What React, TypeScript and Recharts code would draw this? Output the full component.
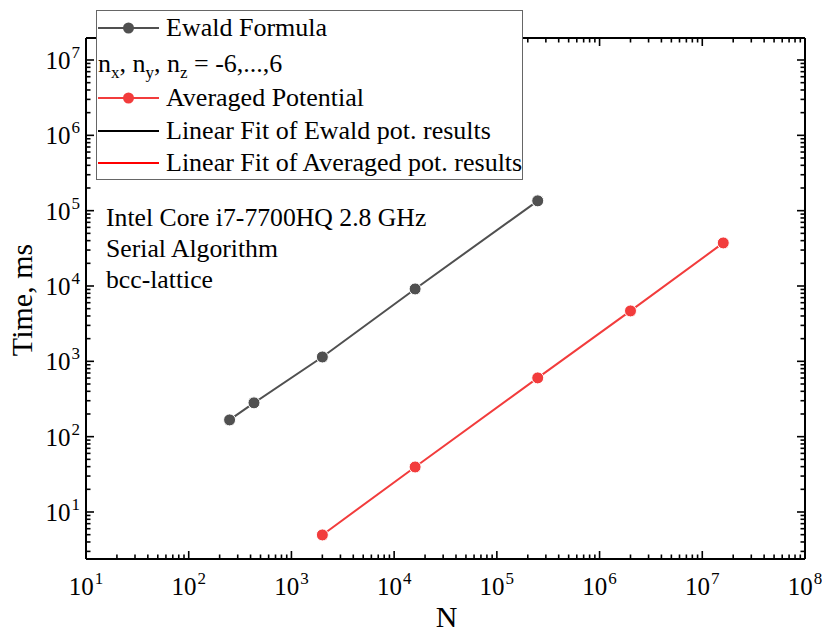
import React from 'react';
import { LineChart, Line, XAxis, YAxis } from 'recharts';

// ---- data ----
const ewaldN = [250, 432, 2000, 16000, 250000];
const ewaldTime = [167, 281, 1143, 9140, 135000];
const avgN = [2000, 16000, 250000, 2000000, 16000000];
const avgTime = [4.96, 39.6, 603, 4670, 37300];

const xMajorTicks = [1e1, 1e2, 1e3, 1e4, 1e5, 1e6, 1e7, 1e8];
const yMajorTicks = [1e1, 1e2, 1e3, 1e4, 1e5, 1e6, 1e7];
const minorSteps = [2, 3, 4, 5, 6, 7, 8, 9];
const xDomain: [number, number] = [10, 1e8];
const yDomain: [number, number] = [2.377, 1.959e7];

const seriesNames = ['Ewald Formula', 'Averaged Potential'];
const fitNames = ['Linear Fit of Ewald pot. results', 'Linear Fit of Averaged pot. results'];
const noteLines = ['Intel Core i7-7700HQ 2.8 GHz', 'Serial Algorithm', 'bcc-lattice'];
const xTitle = 'N';
const yTitle = 'Time, ms';

const ewaldData = ewaldN.map((n, i) => ({ n, t: ewaldTime[i] }));
const avgData = avgN.map((n, i) => ({ n, t: avgTime[i] }));

function withMinor(majors: number[], lo: number, hi: number): number[] {
  const out: number[] = [];
  const decades = [majors[0] / 10, ...majors];
  decades.forEach((d) => {
    if (d >= lo && d <= hi) out.push(d);
    minorSteps.forEach((m) => {
      const v = d * m;
      if (v >= lo && v <= hi) out.push(v);
    });
  });
  return Array.from(new Set(out)).sort((a, b) => a - b);
}

const xTicks = withMinor(xMajorTicks, xDomain[0], xDomain[1]);
const yTicks = withMinor(yMajorTicks, yDomain[0], yDomain[1]);

const isMajor = (v: number) => {
  const e = Math.log10(v);
  return Math.abs(e - Math.round(e)) < 1e-6;
};
const expo = (v: number) => Math.round(Math.log10(v));

const FONT = "'Liberation Serif', 'DejaVu Serif', 'Times New Roman', serif";
const MAJOR = 8;
const MINOR = 4.5;
const TICK_W = 1.6;
const GRAY = '#505050';
const RED = '#f23c3c';
const TICK_FS = 25;
const SUP_FS = 17;

const BottomTick = (props: any) => {
  const { x, y, payload } = props;
  const v = payload.value;
  const major = isMajor(v);
  return (
    <g>
      <line x1={x} x2={x} y1={y} y2={y - (major ? MAJOR : MINOR)} stroke="#000" strokeWidth={TICK_W} />
      {major && (
        <text x={x} y={y + 36} textAnchor="middle" fontFamily={FONT} fontSize={TICK_FS} fill="#000">
          10<tspan fontSize={SUP_FS} dx={1} dy={-11}>{expo(v)}</tspan>
        </text>
      )}
    </g>
  );
};

const TopTick = (props: any) => {
  const { x, y, payload } = props;
  const major = isMajor(payload.value);
  return <line x1={x} x2={x} y1={y} y2={y + (major ? MAJOR : MINOR)} stroke="#000" strokeWidth={TICK_W} />;
};

const LeftTick = (props: any) => {
  const { x, y, payload } = props;
  const v = payload.value;
  const major = isMajor(v);
  return (
    <g>
      <line x1={x} x2={x + (major ? MAJOR : MINOR)} y1={y} y2={y} stroke="#000" strokeWidth={TICK_W} />
      {major && (
        <text x={x - 6} y={y + 9} textAnchor="end" fontFamily={FONT} fontSize={TICK_FS} fill="#000">
          10<tspan fontSize={SUP_FS} dx={1} dy={-11}>{expo(v)}</tspan>
        </text>
      )}
    </g>
  );
};

const RightTick = (props: any) => {
  const { x, y, payload } = props;
  const major = isMajor(payload.value);
  return <line x1={x} x2={x - (major ? MAJOR : MINOR)} y1={y} y2={y} stroke="#000" strokeWidth={TICK_W} />;
};

const W = 814;
const H = 620;
const LEG_FS = 26;
const NOTE_FS = 25.7;

export default function App() {
  const axisLine = { stroke: '#000', strokeWidth: 2 };
  const legendRowsY = [28, 64, 98, 131, 163];
  const symX1 = 90;
  const symX2 = 151;
  const textX = 158;
  return (
    <div style={{ position: 'relative', width: W, height: H }}>
      <LineChart width={W} height={H} margin={{ top: 20, right: 7, bottom: 9, left: 0 }}>
        <XAxis
          xAxisId="bottom"
          dataKey="n"
          type="number"
          scale="log"
          domain={xDomain}
          allowDataOverflow
          ticks={xTicks}
          interval={0}
          tickSize={0}
          tickMargin={0}
          tickLine={false}
          axisLine={axisLine}
          tick={<BottomTick />}
          height={60}
          orientation="bottom"
        />
        <XAxis
          xAxisId="top"
          dataKey="n"
          type="number"
          scale="log"
          domain={xDomain}
          allowDataOverflow
          ticks={xTicks}
          interval={0}
          tickSize={0}
          tickMargin={0}
          tickLine={false}
          axisLine={axisLine}
          tick={<TopTick />}
          height={10}
          orientation="top"
        />
        <YAxis
          yAxisId="left"
          type="number"
          scale="log"
          domain={yDomain}
          allowDataOverflow
          ticks={yTicks}
          interval={0}
          tickSize={0}
          tickMargin={0}
          tickLine={false}
          axisLine={axisLine}
          tick={<LeftTick />}
          width={78}
          orientation="left"
        />
        <YAxis
          yAxisId="right"
          type="number"
          scale="log"
          domain={yDomain}
          allowDataOverflow
          ticks={yTicks}
          interval={0}
          tickSize={0}
          tickMargin={0}
          tickLine={false}
          axisLine={axisLine}
          tick={<RightTick />}
          width={10}
          orientation="right"
        />
        <Line
          xAxisId="bottom"
          yAxisId="left"
          data={ewaldData}
          dataKey="t"
          name={seriesNames[0]}
          stroke={GRAY}
          strokeWidth={2}
          dot={{ r: 6, fill: GRAY, stroke: '#fff', strokeWidth: 1 }}
          isAnimationActive={false}
        />
        <Line
          xAxisId="bottom"
          yAxisId="left"
          data={avgData}
          dataKey="t"
          name={seriesNames[1]}
          stroke={RED}
          strokeWidth={2}
          dot={{ r: 6, fill: RED, stroke: '#fff', strokeWidth: 1 }}
          isAnimationActive={false}
        />
      </LineChart>
      <svg
        width={830}
        height={636}
        style={{ position: 'absolute', left: -8, top: -8, pointerEvents: 'none' }}
        fontFamily={FONT}
      >
        <g transform="translate(8,8)">
          {/* legend */}
          <rect x={88.5} y={2.5} width={426} height={169} fill="#fff" stroke="#666" strokeWidth={1} />
          <line x1={symX1} x2={symX2} y1={legendRowsY[0] - 8} y2={legendRowsY[0] - 8} stroke={GRAY} strokeWidth={2} />
          <circle cx={(symX1 + symX2) / 2} cy={legendRowsY[0] - 8} r={5.5} fill={GRAY} />
          <text x={textX} y={legendRowsY[0]} fontSize={LEG_FS} fill="#000">{seriesNames[0]}</text>

          <text x={symX1} y={legendRowsY[1]} fontSize={LEG_FS} fill="#000">
            n<tspan fontSize={17} dy={6}>x</tspan>
            <tspan dy={-6}>, n</tspan>
            <tspan fontSize={17} dy={6}>y</tspan>
            <tspan dy={-6}>, n</tspan>
            <tspan fontSize={17} dy={6}>z</tspan>
            <tspan dy={-6}> = -6,...,6</tspan>
          </text>

          <line x1={symX1} x2={symX2} y1={legendRowsY[2] - 8} y2={legendRowsY[2] - 8} stroke={RED} strokeWidth={2} />
          <circle cx={(symX1 + symX2) / 2} cy={legendRowsY[2] - 8} r={5.5} fill={RED} />
          <text x={textX} y={legendRowsY[2]} fontSize={LEG_FS} fill="#000">{seriesNames[1]}</text>

          <line x1={symX1} x2={symX2} y1={legendRowsY[3] - 8} y2={legendRowsY[3] - 8} stroke="#000" strokeWidth={2} />
          <text x={textX} y={legendRowsY[3]} fontSize={LEG_FS} fill="#000">{fitNames[0]}</text>

          <line x1={symX1} x2={symX2} y1={legendRowsY[4] - 8} y2={legendRowsY[4] - 8} stroke="#ff0000" strokeWidth={2} />
          <text x={textX} y={legendRowsY[4]} fontSize={LEG_FS} fill="#000">{fitNames[1]}</text>

          {/* annotation */}
          {noteLines.map((s, i) => (
            <text key={s} x={98} y={218 + i * 31} fontSize={NOTE_FS} fill="#000">{s}</text>
          ))}

          {/* axis titles */}
          <text x={438.5} y={619} fontSize={30} textAnchor="middle" fill="#000">{xTitle}</text>
          <text x={24} y={292} fontSize={30} textAnchor="middle" fill="#000" transform="rotate(-90, 24, 292)">
            {yTitle}
          </text>
        </g>
      </svg>
    </div>
  );
}
